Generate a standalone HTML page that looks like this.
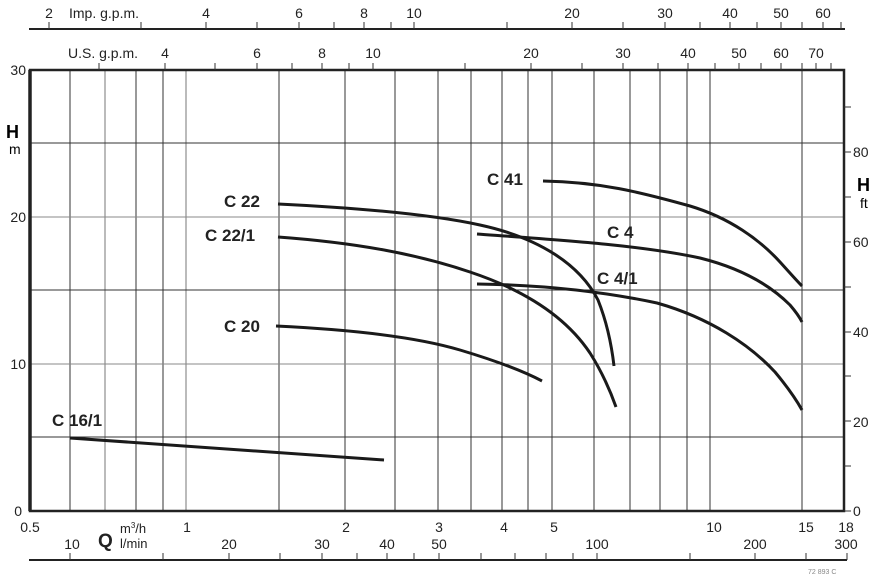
<!DOCTYPE html>
<html><head><meta charset="utf-8"><style>
html,body{margin:0;padding:0;background:#fff;}
svg{display:block;font-family:"Liberation Sans",sans-serif;}
</style></head><body>
<svg width="881" height="577" viewBox="0 0 881 577" xmlns="http://www.w3.org/2000/svg">
<g stroke="#333" stroke-width="1" fill="none">
<line x1="70" y1="70" x2="70" y2="511"/><line x1="105" y1="70" x2="105" y2="511" stroke="#777"/>
<line x1="136" y1="70" x2="136" y2="511"/><line x1="163" y1="70" x2="163" y2="511"/>
<line x1="186" y1="70" x2="186" y2="511" stroke="#777"/><line x1="279" y1="70" x2="279" y2="511"/>
<line x1="345" y1="70" x2="345" y2="511"/><line x1="395" y1="70" x2="395" y2="511"/>
<line x1="438" y1="70" x2="438" y2="511"/><line x1="471" y1="70" x2="471" y2="511"/>
<line x1="502" y1="70" x2="502" y2="511"/><line x1="528" y1="70" x2="528" y2="511"/>
<line x1="552" y1="70" x2="552" y2="511"/><line x1="594" y1="70" x2="594" y2="511"/>
<line x1="630" y1="70" x2="630" y2="511"/><line x1="660" y1="70" x2="660" y2="511"/>
<line x1="687" y1="70" x2="687" y2="511"/><line x1="710" y1="70" x2="710" y2="511"/>
<line x1="802" y1="70" x2="802" y2="511"/>
<line x1="29" y1="143" x2="845" y2="143"/><line x1="29" y1="217" x2="845" y2="217" stroke="#888"/>
<line x1="29" y1="290" x2="845" y2="290"/><line x1="29" y1="364" x2="845" y2="364" stroke="#888"/>
<line x1="29" y1="437" x2="845" y2="437"/>
</g>
<rect x="30" y="70" width="814" height="441" fill="none" stroke="#222" stroke-width="2.5"/>
<line x1="30" y1="70" x2="30" y2="511" stroke="#222" stroke-width="3.5"/>
<!-- right ft ticks -->
<g stroke="#333" stroke-width="1">
<line x1="844" y1="511" x2="851" y2="511"/><line x1="844" y1="466" x2="851" y2="466"/>
<line x1="844" y1="421" x2="851" y2="421"/><line x1="844" y1="376" x2="851" y2="376"/>
<line x1="844" y1="332" x2="851" y2="332"/><line x1="844" y1="287" x2="851" y2="287"/>
<line x1="844" y1="242" x2="851" y2="242"/><line x1="844" y1="197" x2="851" y2="197"/>
<line x1="844" y1="152" x2="851" y2="152"/><line x1="844" y1="107" x2="851" y2="107"/>
</g>
<g font-size="14" fill="#222">
<text x="853" y="516">0</text><text x="853" y="427">20</text><text x="853" y="337">40</text>
<text x="853" y="247">60</text><text x="853" y="157">80</text>
<text x="26" y="75" text-anchor="end">30</text><text x="26" y="222" text-anchor="end">20</text>
<text x="26" y="369" text-anchor="end">10</text><text x="22" y="516" text-anchor="end">0</text>
</g>
<text x="6" y="138" font-size="18" font-weight="bold">H</text><text x="9" y="154" font-size="14">m</text>
<text x="857" y="191" font-size="18" font-weight="bold">H</text><text x="860" y="208" font-size="14">ft</text>
<!-- Imp gpm axis -->
<line x1="29" y1="29" x2="845" y2="29" stroke="#222" stroke-width="2"/>
<g stroke="#333" stroke-width="1">
<line x1="49" y1="22" x2="49" y2="29"/><line x1="141" y1="22" x2="141" y2="29"/><line x1="206" y1="22" x2="206" y2="29"/>
<line x1="257" y1="22" x2="257" y2="29"/><line x1="299" y1="22" x2="299" y2="29"/><line x1="334" y1="22" x2="334" y2="29"/>
<line x1="364" y1="22" x2="364" y2="29"/><line x1="391" y1="22" x2="391" y2="29"/><line x1="414" y1="22" x2="414" y2="29"/>
<line x1="507" y1="22" x2="507" y2="29"/><line x1="572" y1="22" x2="572" y2="29"/><line x1="623" y1="22" x2="623" y2="29"/>
<line x1="665" y1="22" x2="665" y2="29"/><line x1="700" y1="22" x2="700" y2="29"/><line x1="730" y1="22" x2="730" y2="29"/>
<line x1="757" y1="22" x2="757" y2="29"/><line x1="781" y1="22" x2="781" y2="29"/><line x1="802" y1="22" x2="802" y2="29"/>
<line x1="823" y1="22" x2="823" y2="29"/><line x1="841" y1="22" x2="841" y2="29"/>
</g>
<g font-size="14" fill="#222" text-anchor="middle">
<text x="49" y="18">2</text><text x="206" y="18">4</text><text x="299" y="18">6</text><text x="364" y="18">8</text>
<text x="414" y="18">10</text><text x="572" y="18">20</text><text x="665" y="18">30</text><text x="730" y="18">40</text>
<text x="781" y="18">50</text><text x="823" y="18">60</text>
</g>
<text x="69" y="18" font-size="14" fill="#222">Imp. g.p.m.</text>
<!-- US gpm ticks -->
<g stroke="#333" stroke-width="1">
<line x1="99" y1="63" x2="99" y2="70"/><line x1="165" y1="63" x2="165" y2="70"/><line x1="215" y1="63" x2="215" y2="70"/>
<line x1="257" y1="63" x2="257" y2="70"/><line x1="292" y1="63" x2="292" y2="70"/><line x1="322" y1="63" x2="322" y2="70"/>
<line x1="349" y1="63" x2="349" y2="70"/><line x1="373" y1="63" x2="373" y2="70"/><line x1="465" y1="63" x2="465" y2="70"/>
<line x1="531" y1="63" x2="531" y2="70"/><line x1="582" y1="63" x2="582" y2="70"/><line x1="623" y1="63" x2="623" y2="70"/>
<line x1="658" y1="63" x2="658" y2="70"/><line x1="688" y1="63" x2="688" y2="70"/><line x1="715" y1="63" x2="715" y2="70"/>
<line x1="739" y1="63" x2="739" y2="70"/><line x1="761" y1="63" x2="761" y2="70"/><line x1="781" y1="63" x2="781" y2="70"/>
<line x1="802" y1="63" x2="802" y2="70"/><line x1="816" y1="63" x2="816" y2="70"/><line x1="831" y1="63" x2="831" y2="70"/>
</g>
<g font-size="14" fill="#222" text-anchor="middle">
<text x="165" y="58">4</text><text x="257" y="58">6</text><text x="322" y="58">8</text><text x="373" y="58">10</text>
<text x="531" y="58">20</text><text x="623" y="58">30</text><text x="688" y="58">40</text><text x="739" y="58">50</text>
<text x="781" y="58">60</text><text x="816" y="58">70</text>
</g>
<text x="68" y="58" font-size="14" fill="#222">U.S. g.p.m.</text>
<!-- bottom labels m3/h -->
<g font-size="14" fill="#222" text-anchor="middle">
<text x="30" y="532">0.5</text><text x="187" y="532">1</text><text x="346" y="532">2</text><text x="439" y="532">3</text>
<text x="504" y="532">4</text><text x="554" y="532">5</text><text x="714" y="532">10</text><text x="806" y="532">15</text><text x="846" y="532">18</text>
</g>
<text x="98" y="547" font-size="19" font-weight="bold" fill="#222">Q</text>
<text x="120" y="533" font-size="13" fill="#222">m<tspan font-size="8" dy="-5">3</tspan><tspan dy="5">/h</tspan></text>
<text x="120" y="548" font-size="13" fill="#222">l/min</text>
<line x1="29" y1="560" x2="847" y2="560" stroke="#222" stroke-width="2"/>
<g stroke="#333" stroke-width="1">
<line x1="70" y1="553" x2="70" y2="560"/><line x1="163" y1="553" x2="163" y2="560"/><line x1="229" y1="553" x2="229" y2="560"/>
<line x1="280" y1="553" x2="280" y2="560"/><line x1="322" y1="553" x2="322" y2="560"/><line x1="357" y1="553" x2="357" y2="560"/>
<line x1="387" y1="553" x2="387" y2="560"/><line x1="414" y1="553" x2="414" y2="560"/><line x1="439" y1="553" x2="439" y2="560"/>
<line x1="481" y1="553" x2="481" y2="560"/><line x1="515" y1="553" x2="515" y2="560"/><line x1="546" y1="553" x2="546" y2="560"/>
<line x1="573" y1="553" x2="573" y2="560"/><line x1="597" y1="553" x2="597" y2="560"/><line x1="690" y1="553" x2="690" y2="560"/>
<line x1="755" y1="553" x2="755" y2="560"/><line x1="806" y1="553" x2="806" y2="560"/><line x1="847" y1="553" x2="847" y2="560"/>
</g>
<g font-size="14" fill="#222" text-anchor="middle">
<text x="72" y="549">10</text><text x="229" y="549">20</text><text x="322" y="549">30</text><text x="387" y="549">40</text>
<text x="439" y="549">50</text><text x="597" y="549">100</text><text x="755" y="549">200</text><text x="846" y="549">300</text>
</g>
<text x="808" y="574" font-size="7" fill="#888">72 893 C</text>
<!-- curves -->
<g fill="none" stroke="#1a1a1a" stroke-width="3" stroke-linecap="butt" stroke-linejoin="round">
<path d="M278,204 C360,208 430,214 480,225 C540,238 580,265 598,300 C606,320 611,340 614,366"/>
<path d="M278,237 C360,243 420,255 470,272 C530,292 568,320 590,353 C602,372 610,390 616,407"/>
<path d="M276,326 C360,330 420,338 460,350 C500,362 525,372 542,381"/>
<path d="M70,438 L384,460"/>
<path d="M543,181 C600,182 640,192 690,206 C730,218 760,240 780,262 C790,273 797,281 802,286"/>
<path d="M477,234 C560,240 640,245 700,258 C740,268 770,285 790,305 C796,312 800,318 802,322"/>
<path d="M477,284 C550,285 610,293 657,303 C710,318 750,345 775,372 C790,390 797,401 802,410"/>
</g>
<g font-size="17" font-weight="bold" fill="#222">
<text x="224" y="207">C 22</text><text x="205" y="241">C 22/1</text><text x="224" y="332">C 20</text>
<text x="52" y="426">C 16/1</text><text x="487" y="185">C 41</text><text x="607" y="238">C 4</text><text x="597" y="284">C 4/1</text>
</g>
</svg>
</body></html>
